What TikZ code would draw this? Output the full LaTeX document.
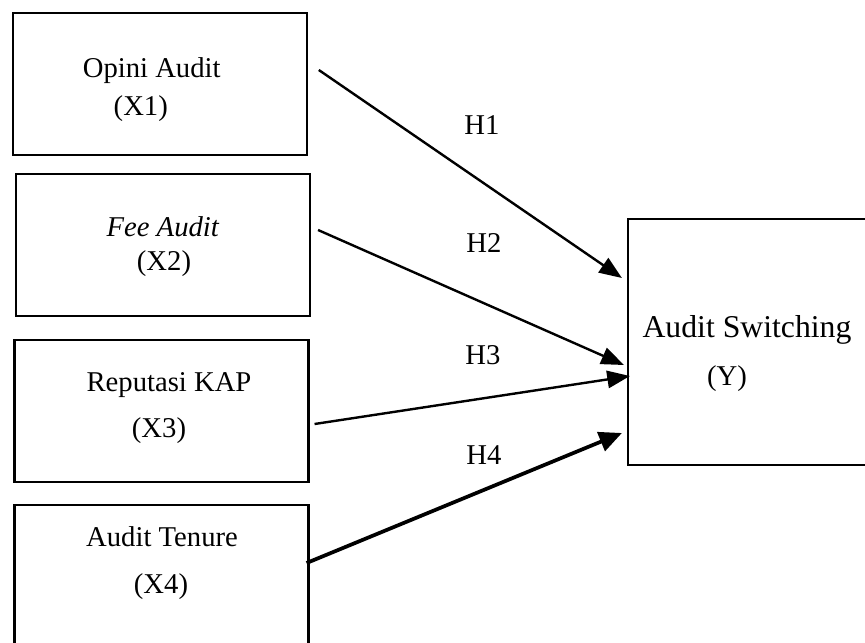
\documentclass[tikz,border=0pt]{standalone}
\usepackage{fontspec}
\setmainfont{Liberation Serif}
\usetikzlibrary{arrows.meta,calc}

\begin{document}
\begin{tikzpicture}[x=0.75pt,y=-0.75pt,
	box/.style={draw, line width=1.6pt, inner sep=0pt, minimum width=220.5pt, minimum height=106.5pt},
	lbl/.style={anchor=base, inner sep=0.75pt, font=\fontsize{21.5}{26}\selectfont},
	path/.style={line width=1.8pt, -{Triangle[length=17pt,width=13pt]}}]
	%set diagram left start at 0, and has height of 643
	\clip (0,0) rectangle (865,643);

	% Variable boxes
	\node [box] (x1) at (159.75,84) {};
	\node [box] (x2) at (163,245) {};
	\node [box] (x3) at (161.5,411) {};
	\node [box] (x4) at (161.5,576) {};
	\node [box, minimum width=187.5pt, minimum height=184.5pt] (y) at (753,342) {};

	% Text Node
	\node [lbl] (x1name) at (151.7,77) {Opini Audit};
	\node [lbl] (x1code) at (140.8,115) {(X1)};
	% Text Node
	\node [lbl] (x2name) at (163,236) {\textit{Fee Audit}};
	\node [lbl] (x2code) at (164,270) {(X2)};
	% Text Node
	\node [lbl] (x3name) at (169,391) {Reputasi KAP};
	\node [lbl] (x3code) at (159,437) {(X3)};
	% Text Node
	\node [lbl] (x4name) at (162,546) {Audit Tenure};
	\node [lbl] (x4code) at (161,593) {(X4)};
	% Text Node
	\node [lbl, font=\fontsize{23.8}{28}\selectfont] (yname) at (747,337) {Audit Switching};
	\node [lbl] (ycode) at (727,385) {(Y)};

	% Hypothesis labels
	\node [lbl] (h1) at (482,134) {H1};
	\node [lbl] (h2) at (484,252) {H2};
	\node [lbl] (h3) at (483,364) {H3};
	\node [lbl] (h4) at (484,464) {H4};

	% Connection
	\draw [path] ($(x1.east)+(11,-14)$) -- ($(y.west)+(-5,-64)$);
	% Connection
	\draw [path] ($(x2.east)+(7,-15)$) -- ($(y.west)+(-3,23)$);
	% Connection
	\draw [path] ($(x3.east)+(5,13)$) -- ($(y.west)+(3,34)$);
	% Connection
	\draw [path, line width=2.8pt, -{Triangle[length=17pt,width=15pt]}] ($(x4.east)+(-3,-13)$) -- ($(y.west)+(-5,91)$);

\end{tikzpicture}
\end{document}
